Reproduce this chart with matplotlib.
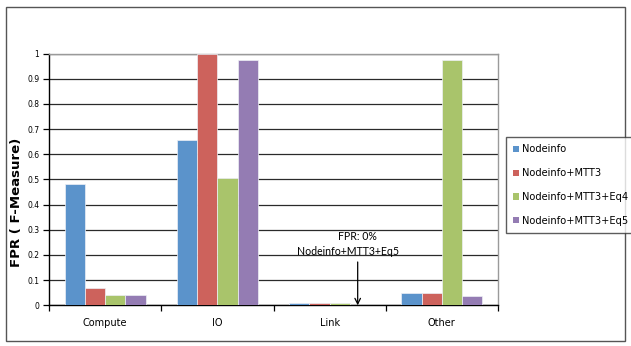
import matplotlib
matplotlib.use("Agg")
import matplotlib.pyplot as plt
import numpy as np
from matplotlib.patches import Rectangle

categories = ["Compute", "IO", "Link", "Other"]
series_names = ["Nodeinfo", "Nodeinfo+MTT3", "Nodeinfo+MTT3+Eq4", "Nodeinfo+MTT3+Eq5"]
nodeinfo = [0.48, 0.655, 0.01, 0.048]
nodeinfo_mtt3 = [0.07, 1.0, 0.01, 0.05]
nodeinfo_mtt3_eq4 = [0.04, 0.505, 0.01, 0.975]
nodeinfo_mtt3_eq5 = [0.04, 0.975, 0.0, 0.038]
y_ticks = [0, 0.1, 0.2, 0.3, 0.4, 0.5, 0.6, 0.7, 0.8, 0.9, 1]
y_tick_labels = ["0", "0.1", "0.2", "0.3", "0.4", "0.5", "0.6", "0.7", "0.8", "0.9", "1"]

colors = ["#5b93cb", "#cd625c", "#a9c46b", "#947cb3"]
series = [nodeinfo, nodeinfo_mtt3, nodeinfo_mtt3_eq4, nodeinfo_mtt3_eq5]

fig = plt.figure(figsize=(6.31, 3.46), dpi=100)
fig.patch.set_facecolor("white")
ax = fig.add_axes([49 / 631, 1 - 305.3 / 346, (498 - 49) / 631, (305.3 - 53.5) / 346])

x = np.arange(len(categories))
w = 0.18
for i, (vals, name, c) in enumerate(zip(series, series_names, colors)):
    ax.bar(x + (i - 1.5) * w, vals, width=w, color=c, edgecolor="#eef0f6",
           linewidth=0.5, label=name, zorder=3)

ax.set_xlim(-0.5, len(categories) - 0.5)
ax.set_ylim(0, 1)
ax.set_yticks(y_ticks)
ax.set_yticklabels(y_tick_labels, fontsize=5.5)
ax.yaxis.grid(True, color="#2a2a2a", linewidth=0.9, zorder=1)
ax.set_axisbelow(True)

ax.set_xticks(x)
ax.set_xticklabels(categories, fontsize=7)
ax.tick_params(axis="x", length=0, pad=9)
ax.set_xticks(np.arange(len(categories) + 1) - 0.5, minor=True)
ax.tick_params(axis="x", which="minor", length=4, width=0.9, direction="out")
ax.tick_params(axis="y", length=4, width=0.9, pad=3)

for s in ["left", "bottom"]:
    ax.spines[s].set_color("black")
    ax.spines[s].set_linewidth(1.0)
for s in ["top", "right"]:
    ax.spines[s].set_color("#9a9a9a")
    ax.spines[s].set_linewidth(1.0)

# Note for the missing Eq5 bar in the Link group
px = 2 + 1.5 * w - 0.02
ax.text(px, 0.275, "FPR: 0%", ha="center", va="center", fontsize=7.6, family="Lato", zorder=5)
ax.text(px - 0.09, 0.215, "Nodeinfo+MTT3+Eq5", ha="center", va="center", fontsize=7.6,
        family="Lato", zorder=5)
ax.annotate("", xy=(px, 0.0), xytext=(px, 0.172),
            arrowprops=dict(arrowstyle="->", color="black", lw=0.9, shrinkA=0, shrinkB=0),
            zorder=5)

fig.text(16.5 / 631, 1 - 202 / 346, "FPR ( F-Measure)", rotation=90, ha="center",
         va="center", fontsize=9.5, fontweight="bold")

leg = fig.legend(loc="upper left", bbox_to_anchor=(506 / 631, 1 - 137 / 346),
                 fontsize=7.1, frameon=True, fancybox=False, borderaxespad=0,
                 handlelength=0.6, handleheight=0.6, handletextpad=0.3,
                 labelspacing=1.4, borderpad=0.75)
leg.get_frame().set_edgecolor("#333333")
leg.get_frame().set_linewidth(1.0)
for h in leg.legend_handles:
    h.set_edgecolor("none")

fig.patches.append(Rectangle((6 / 631, 1 - 341 / 346), (625 - 6) / 631, (341 - 7) / 346,
                             transform=fig.transFigure, fill=False,
                             edgecolor="#555555", linewidth=1.0))

fig.savefig("out.png", dpi=100)
